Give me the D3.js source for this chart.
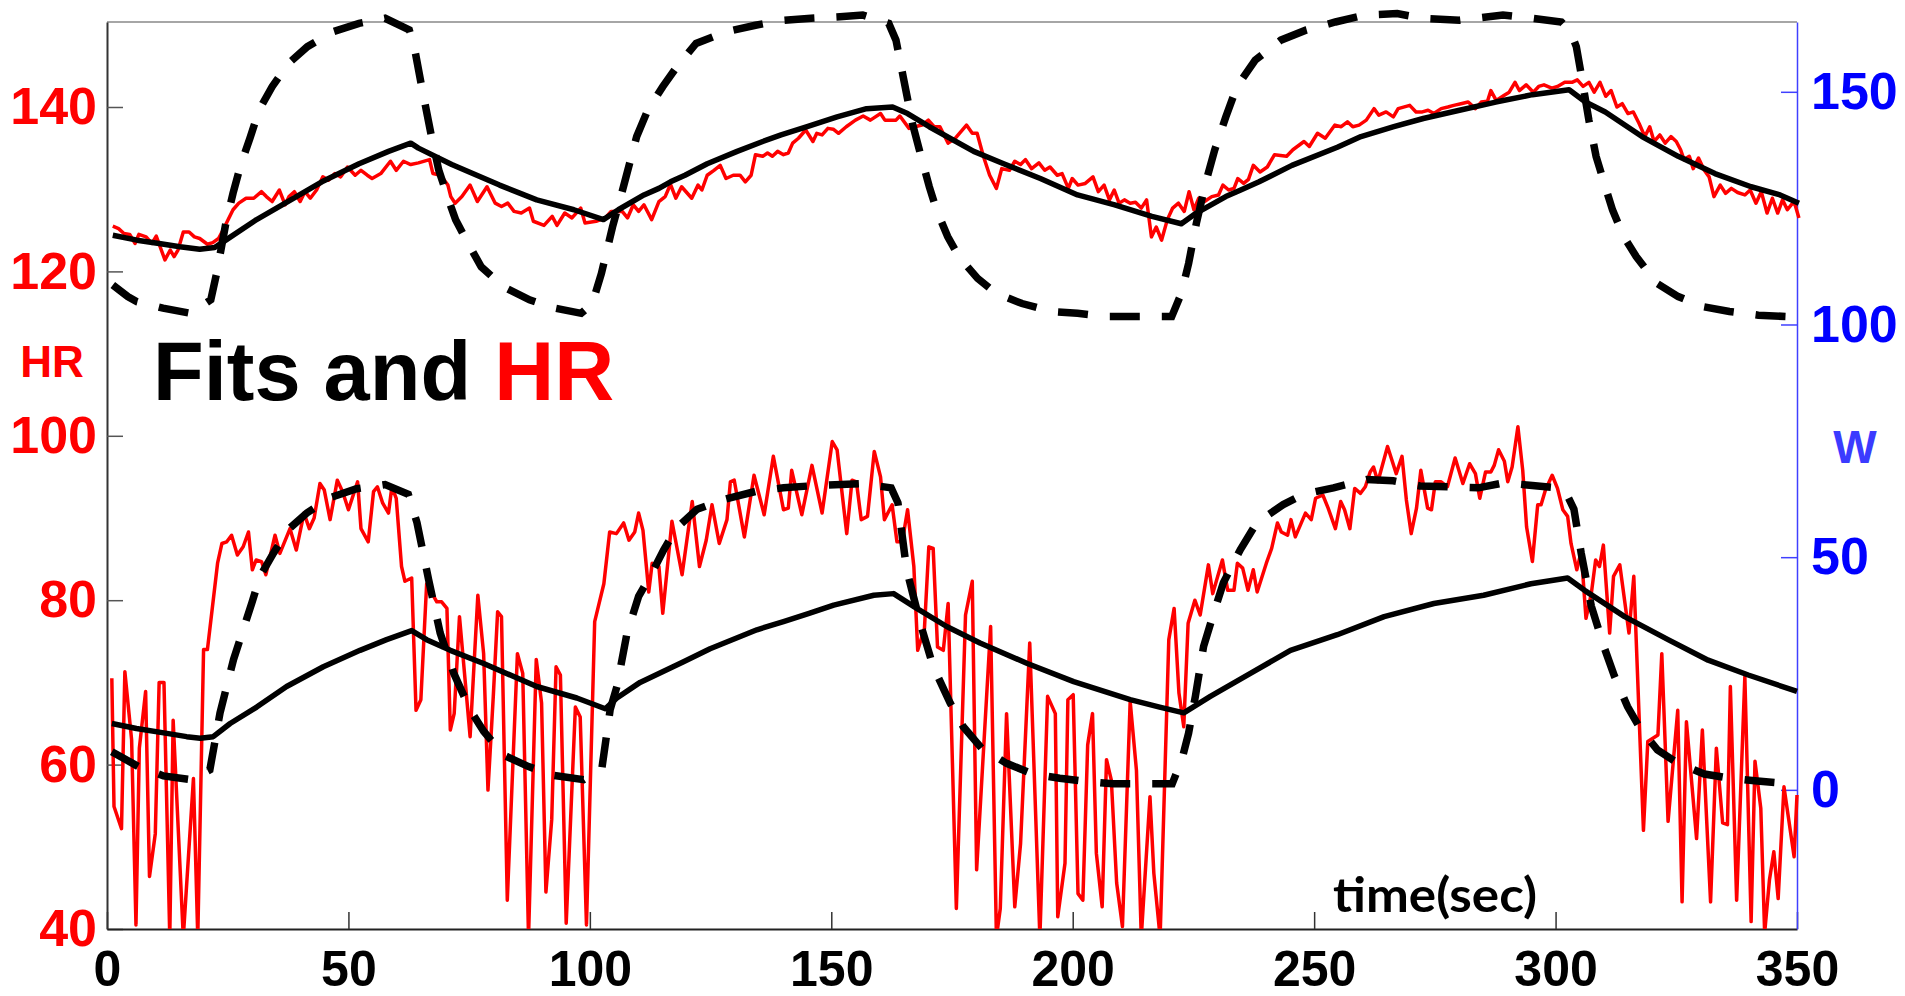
<!DOCTYPE html>
<html>
<head>
<meta charset="utf-8">
<script src="https://cdn.jsdelivr.net/npm/d3@7"></script>
<style>
  body { margin: 0; background: #fff; }
  svg { display: block; }
  .tick text { font-family: "Liberation Sans", Arial, sans-serif; font-weight: bold; }
</style>
</head>
<body>
<div id="chart"></div>
<script>

// tick values
var timeTicks = [0, 50, 100, 150, 200, 250, 300, 350];
var hrTicks = [40, 60, 80, 100, 120, 140];
var wTicks = [0, 50, 100, 150];

// upper panel: measured HR (red), fitted HR (solid), work rate W (dashed)  [time, value]
var upperHR = [[1.2,125.5],[2.4,125.2],[3.5,124.6],[4.7,124.5],[5.8,123.4],[6.6,124.5],[8.1,124.2],[9.3,123.4],[10.2,124.3],[11,123],[12,121.4],[13.1,122.6],[13.9,121.8],[14.7,122.6],[15.8,124.8],[17,124.8],[18.1,124.2],[19.2,124],[20.8,123.3],[21.9,123.5],[23.1,124],[24,125],[25,126.2],[26.1,127.5],[27.3,128.3],[28.8,128.9],[30.4,128.9],[32,129.7],[33,129.1],[34.2,128.5],[35.7,129.9],[36.9,128.1],[37.7,129.1],[38.8,129.7],[40,128.5],[41,129.7],[42.1,128.9],[43.4,129.9],[44.7,131.5],[45.9,131.1],[47.2,131.9],[48.4,131.5],[49.8,132.7],[51.4,131.7],[52.6,132.3],[53.9,131.7],[54.9,131.3],[56.7,131.9],[58.7,133.4],[59.9,132.3],[61.4,133.4],[62.9,133],[64.5,133.2],[66.8,133.6],[67.5,131.9],[69.1,131.7],[70.6,130.5],[71.2,129.1],[72.1,128.3],[73.5,129.1],[75.2,130.5],[76.7,128.5],[78.7,130.3],[80.4,128.3],[81.7,127.9],[83,128.3],[84.3,127.3],[85.8,127.1],[87.5,127.7],[88.3,126.1],[90.5,125.6],[92.2,126.7],[93.2,125.6],[94.8,127.1],[96.3,126.5],[98.1,127.7],[99,125.9],[101.3,126.1],[103.2,126.5],[104.4,127.3],[106.7,127.3],[107.8,126.5],[109,128.1],[110.1,127.3],[111.2,128.1],[112.8,126.3],[114.3,128.5],[115.6,129.1],[116.7,130.6],[117.8,128.9],[119,130.3],[121.1,128.9],[122.4,130.5],[123.2,129.9],[124.3,131.7],[125.7,132.3],[127,132.9],[128.2,131.3],[129.7,131.7],[131.1,131.7],[132.2,130.9],[133.4,131.7],[134.3,134.2],[135.8,134],[136.8,134.4],[137.8,134],[138.9,134.6],[140.1,134.2],[141.1,134.4],[142,135.6],[143.2,136.2],[144.7,137.2],[146.2,135.8],[147,136.8],[148.1,136.6],[149.3,137.4],[150.4,137.3],[151.5,136.8],[153.1,137.6],[155,138.4],[156.6,138.9],[158.1,138.4],[160.2,139.2],[161.1,138.4],[163.4,138.4],[164.2,138.9],[166.1,137.4],[167.3,137.6],[168.8,137.8],[170.1,138.4],[171.3,137.6],[172.5,137.6],[174.2,135.6],[175.7,136.2],[178,137.8],[179.2,136.8],[180.2,136.8],[181.5,134],[182.8,131.7],[184.2,130.1],[185.3,132.5],[186.9,132.3],[188,133.4],[189.2,133],[190.2,133.6],[191.5,132.5],[193,133.2],[194.2,132.3],[195.3,132.7],[196.8,131.7],[197.8,131.9],[199.1,130.1],[199.9,131.3],[201.1,130.5],[202.6,130.7],[204.2,131.5],[205.3,129.7],[206.5,130.5],[207.6,128.7],[208.6,129.9],[209.6,128.3],[210.7,128.7],[211.9,128.3],[213,128.4],[214.2,127.7],[215.3,128.7],[216.3,124.2],[217.3,125.4],[218.4,123.8],[219.6,126.3],[220.7,127.7],[221.9,128.3],[223.1,127.3],[224.1,129.7],[225.1,127.5],[226.1,128.9],[227.3,128.5],[228.8,129.1],[230.2,129.3],[231.1,130.5],[232.3,129.9],[233.4,130.1],[234.2,131.3],[235.4,130.7],[236.4,131.2],[237.4,132.9],[238.8,132.1],[240.3,132.7],[241.8,134.2],[244.3,134],[245.6,134.8],[247.9,135.8],[249,135.2],[250.7,136.8],[252.3,136.2],[254.3,137.8],[255.6,137.6],[256.9,138.2],[258,137.6],[259.3,137.8],[260.8,138.4],[262.4,139.8],[263.4,139],[264.9,139.4],[266.4,138.8],[267.4,139.8],[269.8,140.2],[271.1,139.4],[272.4,139.4],[273.6,139.6],[274.8,139.2],[276.3,139.8],[277.7,140],[278.9,140.2],[280.4,140.4],[281.9,140.6],[283.4,139.8],[284.6,140.6],[285.9,140.7],[286.6,142],[287.7,140.8],[289.3,141.4],[290.4,141.8],[291.6,143],[292.5,142],[293.9,142.7],[295.4,141.8],[296.5,142.5],[297.6,142.7],[299.2,142.3],[300.4,142.5],[301.9,143],[303.4,143],[304.5,143.3],[305.7,142.5],[306.9,143],[308,141.8],[309.2,143],[310.4,141.3],[311.5,142],[312.7,140],[313.8,140.4],[315,139.2],[316.1,139.4],[317.3,138],[318.5,136.4],[319.5,137.6],[320.4,135.8],[321.6,136.6],[322.7,135.6],[323.9,136.4],[325,135.8],[325.9,134.8],[326.6,133.6],[327.7,134],[328.5,132.5],[329.6,133.8],[330.8,132.3],[331.8,131.5],[332.8,129.1],[334.1,130.5],[335.2,129.5],[336.4,130.1],[337.7,129.6],[339.2,129.3],[340.3,129.9],[341.5,128.3],[342.6,129.7],[343.8,127.1],[344.9,128.9],[346,127.1],[347,128.7],[348,127.5],[349.1,128.3],[349.6,128.1],[350.4,126.5]];

var upperFit = [[1.2,124.4],[6.2,123.8],[10.8,123.4],[15.1,123],[19.2,122.7],[22.3,122.9],[24.6,123.8],[30.7,126.2],[36.9,128.3],[44.5,130.9],[52.2,133.1],[58.3,134.6],[62.9,135.6],[64.5,135],[71.4,133],[81.3,130.5],[89,128.7],[96.7,127.5],[102.8,126.3],[105.9,127.5],[111.2,129.3],[114.3,130.1],[116.7,130.9],[119.7,131.7],[124.3,133.1],[130.5,134.6],[135.8,135.8],[139.6,136.6],[145,137.6],[151.2,138.8],[157.3,139.8],[162.7,140],[165.8,139.2],[170.3,137.6],[179.5,134.6],[185.7,133.1],[193.3,131.3],[201,129.3],[208.7,128.1],[216.4,126.7],[222.5,125.8],[225.6,127.1],[231.7,129.1],[234.8,129.9],[238.6,130.9],[245.4,132.9],[254.8,135.1],[259.7,136.4],[266.5,137.6],[272.6,138.6],[280.1,139.6],[287.6,140.6],[295.2,141.5],[302.8,142.1],[306.2,140.6],[310.3,139.4],[317.9,136.4],[325.4,134],[333,131.9],[340.5,130.3],[346.5,129.3],[350.4,128.3]];

var upperW = [[1.2,108.5],[4.3,106],[6.2,104.9],[11.6,103.5],[17.3,102.4],[21.5,105.3],[22.7,111],[24.6,121.7],[26.1,128.2],[27.7,134.3],[29.6,140],[31.5,146.1],[34.2,151.1],[37.6,156.1],[41.5,159.7],[46.8,162.9],[52.2,164.7],[57.6,165.8],[62.6,163.3],[63.7,159.3],[65.3,150.4],[67.2,140.4],[68.7,133.2],[71,126],[72.2,122.5],[74.8,117.4],[77.5,112.4],[82.1,108.1],[87.5,105.3],[92.8,103.5],[98.2,102.4],[100.5,104.5],[102.4,111],[104.7,121],[106.6,128.2],[109.7,140.4],[112,146.1],[115.1,151.1],[118.1,155.5],[122,160.4],[128.2,162.9],[134.3,164.3],[139.6,165.3],[145.8,165.8],[151.1,166.1],[156.5,166.5],[161.9,164.7],[163.4,161.1],[164.9,153.2],[166.8,143.2],[168.8,135.3],[170.3,129.6],[171.8,124.6],[174.1,118.9],[176.4,114.6],[180.3,109.9],[184.1,106.7],[189.5,104.5],[195.6,102.8],[201,102.4],[207.1,101.7],[214,101.7],[220.5,101.7],[222.5,106.7],[224,113.1],[225.6,121.7],[227.5,130.3],[229.4,137.5],[231.7,144.6],[234,151.1],[237.8,156.8],[243.1,161.1],[248.4,163.3],[254.4,165],[260.4,166.5],[267.2,166.8],[272.5,165.8],[280.1,165.4],[289.1,166.5],[295.2,165.8],[301.2,165],[303.1,162.9],[304.3,159.7],[305.4,153.2],[306.9,143.9],[308.4,136.1],[310.3,129.6],[311.8,124.6],[314.1,118.9],[316.7,114.6],[320.9,108.9],[325.4,106],[330.7,103.8],[336,102.8],[342,102],[348,101.7]];

// lower panel: raw HR (red), fitted HR (solid), work rate W (dashed)
var lowerHR = [[1,70.5],[1.45,54.9],[3,52.2],[3.7,71.3],[5.1,63],[6,40.5],[6.7,62],[8,68.9],[8.8,46.4],[10,51.6],[10.8,70],[11.8,70],[13,39],[13.7,65.4],[15.8,39],[17.9,58.3],[18.8,39],[20,74],[20.8,74],[22.9,84.5],[23.8,86.9],[24.8,87.1],[25.8,87.9],[27,85.5],[28.2,86.5],[29.3,88.3],[30.1,83.7],[30.9,84.9],[32,84.7],[32.9,83.1],[34.8,87.9],[35.8,85.7],[37.9,88.7],[39.2,86.1],[40.8,90.6],[41.9,88.7],[42.9,90],[44.1,94.2],[45,93.4],[46.2,89.8],[47.7,94.6],[48.8,93.2],[50,91],[51.9,94.4],[52.6,88.7],[54.1,87.1],[55.2,93.2],[56,93.8],[57.1,91.8],[58.3,90.6],[59,93.8],[59.9,92.4],[61,84.1],[61.7,82.3],[63.1,82.7],[64,66.6],[65,67.9],[66.2,82],[68.3,79.8],[69.3,79.8],[70.4,79],[71.1,64.2],[71.9,66.2],[73,78],[75.2,63.4],[76.8,80.6],[78,73.5],[78.9,56.9],[80,68.3],[80.9,78.6],[81.7,78],[82.9,43.5],[85,73.5],[86.1,71.1],[87.3,39],[88.9,72.8],[90,67.5],[90.9,44.5],[92.1,53.3],[93,71.9],[93.9,70.9],[95.1,40.7],[97,67],[98,65.8],[99.3,40.5],[101,77.4],[102.9,82],[104.1,88.3],[105.5,88.1],[107,89.4],[108.1,87.3],[109.3,88.3],[110.1,90.6],[111,88.5],[112.2,81],[112.9,84.5],[114.3,84.1],[115.1,78.4],[117,89.6],[119.1,83.1],[121.2,92],[122.7,84.1],[124.1,87.3],[125.3,91.6],[126.8,86.9],[128.4,89.8],[129.1,94.4],[129.9,94.6],[132,87.7],[134,95.2],[136.1,90.4],[138,97.5],[140.1,91],[141.1,91.2],[141.8,95.8],[143.9,90.4],[146,96.4],[148.1,90.6],[150.2,99.3],[151.2,98.3],[153.2,88.1],[154.3,94.6],[155.2,94.4],[156.2,89.8],[157.5,90.2],[158.9,98.1],[160.2,95],[161,89.8],[162.6,91.6],[163.6,87.1],[164.7,87.1],[165.8,91],[167.1,84.1],[167.9,73.9],[169.3,76.6],[170.2,86.5],[171.1,86.3],[172,74.3],[173.2,73.9],[174.2,79.6],[175.9,42.5],[177.8,78.2],[179.2,82.3],[180.1,47.2],[183,76.8],[184.2,39],[185,42.5],[186.3,66.2],[188,42.7],[189.2,50.4],[191.1,74.8],[193.2,39],[194.8,68.3],[196.4,66.2],[196.9,41.5],[198.4,48],[199,67.9],[200.1,68.5],[201.1,44.3],[202.1,43.5],[203.1,62.4],[204.1,66.2],[204.9,49.2],[206.1,42.7],[207,60.6],[208,58.1],[209.1,45.6],[210.3,40.3],[211.9,67.7],[213.2,59.3],[214.2,39],[216,56.1],[216.8,46.8],[218.1,39],[219.9,75.2],[221,79],[222,68.7],[223,64.6],[223.9,77.2],[225.3,80],[226.4,78.2],[228.1,84.3],[229,80.8],[231,84.9],[232.1,81.2],[233.4,81.2],[234.1,84.5],[235.2,83.9],[236.3,81.2],[237.4,83.7],[238.2,81],[240.1,84.5],[241.2,86.3],[242.4,89.4],[243.2,88.3],[244.5,87.9],[245.2,89.8],[246.1,87.7],[248.2,90.6],[249.4,89.8],[250.3,92.4],[251.8,92.8],[252.9,91.2],[254.4,88.7],[255.5,92],[256.3,91],[257.4,88.7],[258.4,93.6],[259.6,93],[260.6,93.8],[261.6,95.6],[262.3,96.2],[263.2,94.4],[265.2,98.7],[267,95.4],[268.2,97.5],[269.1,92.2],[270.1,88.1],[271.2,91.2],[272.1,95.8],[273.5,91.2],[274.3,91],[275.1,94.4],[276.3,94.4],[277.6,93.8],[279.2,97.3],[280.8,94.2],[282.2,96.6],[283.4,95.4],[284.3,92.4],[285.5,95.6],[286.6,95.6],[287.3,96.4],[288.2,98.3],[289.4,96.9],[290.1,94.4],[291,96.2],[292.2,101.1],[293.2,95.8],[294,88.9],[295.2,84.7],[296.3,91.6],[297,91.6],[297.9,93.4],[299.3,95.2],[300.4,93.6],[301.5,91],[302.5,90.2],[303.2,86.9],[304.4,83.7],[305.3,85.9],[306.3,77.8],[307.4,80.8],[308.3,84.9],[309.1,84.1],[309.9,86.7],[311.2,76],[312,82.9],[313.3,84.3],[315.2,76],[316.2,82.9],[318.2,52],[319.1,62.8],[321.2,63.6],[322,73.5],[323.3,53.1],[325.3,66.6],[326.2,43.3],[327.1,65.2],[329.2,51],[330.4,64.2],[332.1,43.3],[333.3,62],[334.6,52.9],[335.6,52.7],[336.2,69.5],[337.5,43.5],[339.2,70.7],[340.5,40.9],[341.3,60.4],[342.5,54.7],[343.3,39.5],[344.3,46],[345.2,49.4],[346.1,43.7],[347.3,57.3],[349.4,48.8],[350,56.3]];

var lowerFit = [[1,65],[6.1,64.4],[12.4,63.8],[16.5,63.4],[19.3,63.2],[22,63.4],[25.5,65],[31,67],[37.2,69.5],[44.8,71.9],[52.4,73.9],[57.9,75.2],[63.1,76.3],[66.2,75.2],[71.1,73.9],[78,72.3],[89,69.5],[97.3,68.1],[103.2,66.8],[105.6,68.1],[110.4,70],[119.4,72.5],[124.9,74.1],[134.6,76.4],[140.1,77.4],[145.4,78.4],[150.5,79.4],[158.8,80.6],[162.9,80.8],[167.7,79],[173.9,76.8],[180.8,74.8],[190.6,72.3],[200.2,70.1],[211.9,67.9],[218,67],[223,66.3],[228.5,68.3],[236.8,71.1],[245.1,73.9],[254.8,75.8],[264.5,78],[274.8,79.6],[285.1,80.6],[294.9,82],[302.5,82.7],[306,81.2],[314.3,78],[323.3,75.2],[331.6,72.7],[339.9,70.9],[350,68.9]];

var lowerW = [[1,8.2],[6.5,5],[11.7,3],[17.5,2.2],[21.3,4.3],[23.4,16.5],[26.2,28],[28.2,34.4],[30,40.2],[31.7,45.9],[34.5,50.9],[37.6,56],[41.4,59.5],[46.2,62.8],[51.7,64.7],[57.6,65.6],[62.4,63.5],[64.2,57.4],[66.6,45.2],[69,33.7],[71.8,25.1],[75.2,17.2],[78,12.6],[82.1,7.5],[87.3,5],[92.5,3.1],[98.7,2.2],[102.5,4.7],[104.2,17.2],[105.6,22.2],[107.7,33.7],[110.1,41.6],[112.5,45.9],[115.3,51.6],[118,56.3],[122.2,60.3],[127.7,62.4],[134.6,64.2],[140.1,64.9],[145.4,65.3],[156.2,65.8],[162.4,64.9],[163.8,61.7],[165.6,47.3],[168.4,35.9],[171.1,26.5],[174.6,18.7],[177.3,13.6],[181.1,9],[186.3,5.7],[191.8,3.4],[197.3,2.5],[202.8,1.8],[208.3,1.3],[220.6,1.3],[222.6,6.5],[224,12.2],[225.4,20.1],[227.1,30.8],[229.2,38],[231.2,44.5],[234.7,51.6],[238.1,57.4],[243.6,61.3],[247.8,63.5],[254,64.9],[260.9,66.7],[266.4,66.4],[271.9,65.3],[278.1,65.1],[284,64.9],[289.4,66],[295.2,65.4],[300.4,64.9],[302.5,63.1],[303.8,60.3],[305.3,50.9],[307.4,39.5],[310,30.8],[312.2,24.4],[314.9,17.9],[317.7,12.9],[321.1,8.6],[325.3,5.7],[330.8,3.4],[336.2,2.5],[341.8,1.9],[347.5,1.4]];

var width = 1905, height = 996;
var plotLeft = 107, plotRight = 1797, plotTop = 22, plotBottom = 929;

var svg = d3.select("#chart").append("svg")
    .attr("width", width)
    .attr("height", height)
    .style("background", "#fff");

var x = d3.scaleLinear().domain([0, 350]).range([plotLeft, plotRight]);
var yHR = d3.scaleLinear().domain([40, 150.34]).range([plotBottom, plotTop]);
var yW = d3.scaleLinear().domain([-29.9, 165]).range([plotBottom, plotTop]);

// red lines stop at the bottom axis
svg.append("clipPath").attr("id", "clip")
  .append("rect").attr("x", 0).attr("y", 0).attr("width", width).attr("height", plotBottom);

// top border
svg.append("line")
    .attr("x1", plotLeft).attr("x2", plotRight)
    .attr("y1", plotTop).attr("y2", plotTop)
    .attr("stroke", "#888").attr("stroke-width", 1.5);

// left axis (HR)
var gL = svg.append("g")
    .attr("transform", "translate(" + plotLeft + ",0)")
    .call(d3.axisLeft(yHR).tickValues(hrTicks).tickSizeInner(-16).tickSizeOuter(0).tickPadding(10));
gL.select(".domain").attr("stroke", "#333").attr("stroke-width", 2);
gL.selectAll(".tick line").attr("stroke", "#555").attr("stroke-width", 1.5);
gL.selectAll(".tick text").attr("fill", "#ff0000").style("font-size", "52px");

// bottom axis (time)
var gB = svg.append("g")
    .attr("transform", "translate(0," + plotBottom + ")")
    .call(d3.axisBottom(x).tickValues(timeTicks).tickSizeInner(-17).tickSizeOuter(0).tickPadding(21));
gB.select(".domain").attr("stroke", "#222").attr("stroke-width", 2);
gB.selectAll(".tick line").attr("stroke", "#333").attr("stroke-width", 1.5);
gB.selectAll(".tick text").attr("fill", "#000").style("font-size", "50px");

// right axis (W)
var gR = svg.append("g")
    .attr("transform", "translate(" + plotRight + ",0)")
    .call(d3.axisRight(yW).tickValues(wTicks).tickSizeInner(-16).tickSizeOuter(0).tickPadding(14));
gR.select(".domain").attr("stroke", "#4040ff").attr("stroke-width", 1.5);
gR.selectAll(".tick line").attr("stroke", "#4040ff").attr("stroke-width", 1.5);
gR.selectAll(".tick text").attr("fill", "#0000ff").style("font-size", "52px");

var lineHR = d3.line()
    .x(function(d) { return x(d[0]); })
    .y(function(d) { return yHR(d[1]); });

var lineW = d3.line()
    .x(function(d) { return x(d[0]); })
    .y(function(d) { return yW(d[1]); });

var plot = svg.append("g");

[upperHR, lowerHR].forEach(function(s) {
  plot.append("path")
      .datum(s)
      .attr("d", lineHR)
      .attr("clip-path", "url(#clip)")
      .attr("fill", "none")
      .attr("stroke", "#ff0000")
      .attr("stroke-width", 3.5)
      .attr("stroke-linejoin", "round");
});

[upperFit, lowerFit].forEach(function(s) {
  plot.append("path")
      .datum(s)
      .attr("d", lineHR)
      .attr("fill", "none")
      .attr("stroke", "#000")
      .attr("stroke-width", 5.5)
      .attr("stroke-linejoin", "round");
});

[upperW, lowerW].forEach(function(s) {
  plot.append("path")
      .datum(s)
      .attr("d", lineW)
      .attr("fill", "none")
      .attr("stroke", "#000")
      .attr("stroke-width", 7.5)
      .attr("stroke-dasharray", "30,22");
});

// labels
svg.append("text")
    .attr("x", 52).attr("y", 377)
    .attr("text-anchor", "middle")
    .style("font-family", "'Liberation Sans', Arial, sans-serif")
    .style("font-weight", "bold")
    .style("font-size", "44px")
    .attr("fill", "#ff0000")
    .text("HR");

svg.append("text")
    .attr("x", 1855).attr("y", 463)
    .attr("text-anchor", "middle")
    .style("font-family", "'Liberation Sans', Arial, sans-serif")
    .style("font-weight", "bold")
    .style("font-size", "46px")
    .attr("fill", "#3b3bff")
    .text("W");

var title = svg.append("text")
    .attr("x", 153).attr("y", 400)
    .style("font-family", "'Liberation Sans', Arial, sans-serif")
    .style("font-weight", "bold")
    .style("font-size", "83px")
    .attr("fill", "#000");
title.append("tspan").text("Fits and ");
title.append("tspan").attr("fill", "#ff0000").text("HR");

svg.append("text")
    .attr("x", 1333).attr("y", 912)
    .attr("textLength", 204)
    .attr("lengthAdjust", "spacingAndGlyphs")
    .style("font-family", "Lato, 'Open Sans', sans-serif")
    .style("font-weight", "bold")
    .style("font-size", "48px")
    .attr("fill", "#000")
    .text("time(sec)");

</script>
</body>
</html>
